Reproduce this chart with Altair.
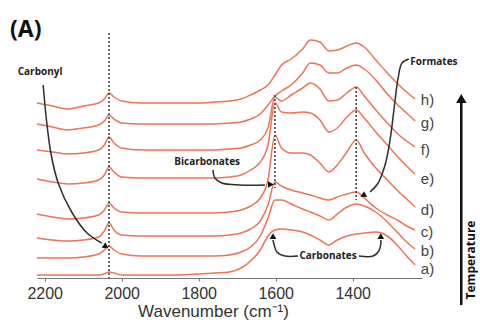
import altair as alt
import pandas as pd

# ---------------- data ----------------
wavenumber = [2220, 2180, 2140, 2100, 2060, 2045, 2033, 2020, 2000, 1950, 1900, 1850, 1800,
              1760, 1720, 1690, 1665, 1640, 1620, 1602, 1585, 1560, 1530, 1510, 1485, 1462,
              1440, 1415, 1391, 1370, 1340, 1310, 1280, 1260, 1238]

curve_a = [3, 3, 3, 3, 3, 4, 6, 5, 3, 3, 3, 3, 4, 5, 6, 10, 17, 28, 42, 48, 49, 48, 46, 43, 38, 33,
           38, 42, 44, 45, 46, 42, 31, 22, 13]
curve_b = [20, 20, 20, 21, 24, 28, 32, 28, 24, 22, 22, 22, 22, 22, 23, 26, 31, 42, 60, 78, 78, 74,
           69, 66, 62, 58, 64, 71, 74, 72, 66, 56, 44, 36, 29]
curve_c = [40, 38, 37, 38, 41, 47, 55, 48, 43, 42, 42, 42, 42, 42, 43, 45, 49, 57, 73, 96, 92, 88,
           85, 83, 80, 78, 81, 84, 86, 80, 70, 63, 57, 52, 48]
curve_d = [64, 61, 59, 60, 63, 68, 75, 70, 66, 65, 65, 65, 65, 65, 66, 68, 72, 80, 98, 143, 130, 125,
           125, 123, 115, 106, 113, 126, 138, 125, 110, 98, 86, 79, 71]
curve_e = [99, 96, 94, 95, 98, 103, 111, 106, 101, 100, 100, 100, 100, 100, 101, 103, 108, 116, 133,
           175, 166, 165, 166, 165, 158, 146, 150, 161, 168, 160, 146, 133, 120, 112, 104]
curve_f = [128, 126, 124, 125, 128, 133, 141, 135, 130, 128, 128, 128, 128, 128, 129, 130, 133, 138,
           150, 181, 177, 183, 190, 195, 189, 177, 178, 185, 191, 182, 168, 155, 143, 137, 131]
curve_g = [154, 151, 148, 150, 153, 157, 163, 159, 155, 154, 154, 154, 154, 154, 155, 156, 159, 164,
           173, 182, 187, 193, 205, 215, 213, 205, 205, 210, 213, 209, 198, 184, 172, 165, 157]
curve_h = [175, 172, 169, 172, 175, 179, 185, 181, 177, 175, 175, 175, 175, 176, 177, 179, 183, 188,
           193, 203, 213, 219, 229, 238, 236, 227, 228, 232, 235, 231, 218, 205, 193, 186, 179]

curve_names = ["a)", "b)", "c)", "d)", "e)", "f)", "g)", "h)"]
curve_values = [curve_a, curve_b, curve_c, curve_d, curve_e, curve_f, curve_g, curve_h]
label_y = [9, 27, 46, 68, 99, 128, 155, 178]
label_w = 1223

tick_values = [2200, 2000, 1800, 1600, 1400]

# marker (dotted) lines: wavenumber, top, bottom
marker_w = [2033, 1602, 1391]
marker_top = [245, 183, 191]
marker_bottom = [0, 90, 78]

# annotation texts
ann_text = ["Carbonyl", "Bicarbonates", "Formates", "Carbonates"]
ann_w = [2212, 1778, 1189, 1464]
ann_y = [206, 116, 216, 22]

# arrow paths (wavenumber, value)
arrow_paths = {
    "carbonyl": ([2204, 2196, 2184, 2165, 2130, 2090, 2052], [193, 160, 125, 95, 66, 45, 35]),
    "bicarb": ([1763, 1758, 1740, 1693, 1628], [108, 100, 95, 93, 93]),
    "formates": ([1254, 1272, 1282, 1293, 1303, 1316, 1334, 1355], [219, 215, 200, 168, 138, 113, 95, 86]),
    "carb_left": ([1542, 1576, 1597, 1604, 1607], [22, 22, 26, 33, 38]),
    "carb_right": ([1384, 1347, 1332, 1327, 1327], [22, 22, 27, 34, 38]),
}
head_w = [2043, 1615, 1371, 1607, 1327, 1118]
head_y = [32, 93.5, 83, 41, 41, 178]
head_angle = [125, 90, 243, 0, 0, 0]
head_size = [45, 45, 45, 45, 45, 110]

LINE = "#EC7357"
DARK = "#2e2e2e"

# ---------------- frames ----------------
rows = []
for name, vals in zip(curve_names, curve_values):
    for w, v in zip(wavenumber, vals):
        rows.append({"w": w, "v": v, "curve": name})
spec_df = pd.DataFrame(rows)

lab_df = pd.DataFrame({"w": [label_w] * 8, "v": label_y, "t": curve_names})
mk_df = pd.DataFrame({"w": marker_w, "v": marker_top, "v2": marker_bottom})
ann_df = pd.DataFrame({"w": ann_w, "v": ann_y, "t": ann_text})

arr_rows = []
for key, (ws, vs) in arrow_paths.items():
    for i, (w, v) in enumerate(zip(ws, vs)):
        arr_rows.append({"w": w, "v": v, "id": key, "i": i})
arr_df = pd.DataFrame(arr_rows)
head_df = pd.DataFrame({"w": head_w, "v": head_y, "ang": head_angle, "s": head_size})

temp_df = pd.DataFrame({"w": [1118], "v": [175], "v2": [-27]})
temp_txt = pd.DataFrame({"w": [1092], "v": [18], "t": ["Temperature"]})
panel_df = pd.DataFrame({"w": [2290], "v": [248], "t": ["(A)"]})

xscale = alt.Scale(domain=[1220, 2220], reverse=True, nice=False, zero=False)
yscale = alt.Scale(domain=[0, 248], nice=False, zero=False)

xaxis = alt.Axis(values=tick_values, format="d", labelFontSize=16, labelColor="#333",
                 labelFont="Liberation Sans", titleFont="Liberation Sans", titleFontSize=17,
                 titleFontWeight="normal", titleColor="#333", domainColor="#777",
                 tickColor="#777", tickSize=3, labelPadding=4, grid=False,
                 titleX=176, titleY=38, titleBaseline="alphabetic")

X = alt.X("w:Q", scale=xscale, axis=xaxis, title="Wavenumber (cm⁻¹)")
Y = alt.Y("v:Q", scale=yscale, axis=None)

lines = alt.Chart(spec_df).mark_line(color=LINE, strokeWidth=1.5, interpolate="monotone").encode(
    x=X, y=Y, detail="curve:N", order=alt.Order("w:Q", sort="descending"))

markers = alt.Chart(mk_df).mark_rule(color="#444", strokeWidth=1.6, strokeDash=[2, 2]).encode(
    x=X, y=Y, y2="v2:Q")

labels = alt.Chart(lab_df).mark_text(align="left", baseline="middle", fontSize=15,
                                     font="Liberation Sans", color="#444").encode(
    x=X, y=Y, text="t:N")

ann = alt.Chart(ann_df).mark_text(align="center", baseline="middle", fontSize=10,
                                  font="Open Sans", fontWeight="bold", color="#222").encode(
    x=X, y=Y, text="t:N")

arrows = alt.Chart(arr_df).mark_line(color=DARK, strokeWidth=1.5, interpolate="catmull-rom").encode(
    x=X, y=Y, detail="id:N", order="i:Q")

heads = alt.Chart(head_df).mark_point(shape="triangle", filled=True, color="#111", opacity=1).encode(
    x=X, y=Y, angle=alt.Angle("ang:Q", scale=None), size=alt.Size("s:Q", scale=None, legend=None))

temp_arrow = alt.Chart(temp_df).mark_rule(color="#111", strokeWidth=2.5).encode(
    x=X, y=Y, y2="v2:Q")

temp_text = alt.Chart(temp_txt).mark_text(angle=270, align="center", baseline="middle", fontSize=12,
                                          font="Open Sans", fontWeight="bold", color="#111").encode(
    x=X, y=Y, text="t:N")

panel = alt.Chart(panel_df).mark_text(align="left", baseline="middle", fontSize=23,
                                      font="Open Sans", fontWeight="bold", color="#111").encode(
    x=X, y=Y, text="t:N")

chart = alt.layer(lines, markers, labels, ann, arrows, heads, temp_arrow, temp_text, panel).properties(
    width=385, height=248,
    autosize=alt.AutoSizeParams(type="none"),
    padding={"left": 37, "top": 30, "right": 58, "bottom": 42},
    background="white",
).configure_view(stroke=None)

chart.save("out.html", embed_options={"renderer": "svg", "actions": False})
